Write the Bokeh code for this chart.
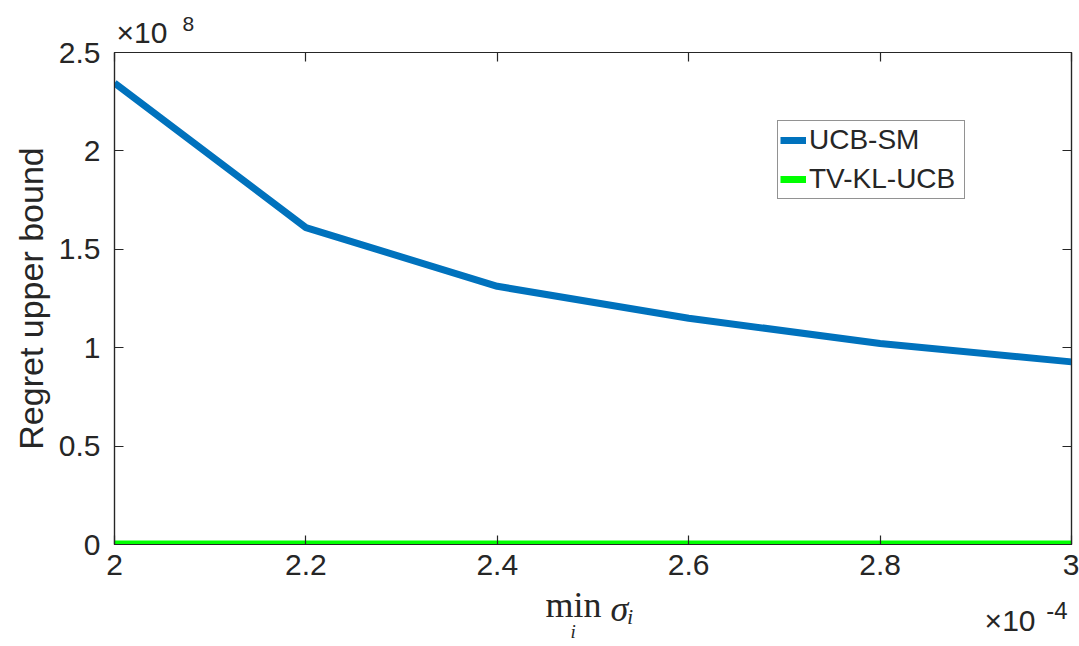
from bokeh.plotting import figure
from bokeh.models import (LinearAxis, FixedTicker, Legend, LegendItem,
                          Range1d, Title)
from bokeh.embed import file_html
from bokeh.resources import INLINE

# x values in units of 1e-4, y values in units of 1e8
sigma_min = [2.0, 2.2, 2.4, 2.6, 2.8, 3.0]
ucb_sm = [2.345, 1.61, 1.312, 1.15, 1.021, 0.928]
tv_kl_ucb = [0.002, 0.002, 0.002, 0.002, 0.002, 0.002]

x_ticks = [2.0, 2.2, 2.4, 2.6, 2.8, 3.0]
x_tick_labels = ["2", "2.2", "2.4", "2.6", "2.8", "3"]
y_ticks = [0.0, 0.5, 1.0, 1.5, 2.0, 2.5]
y_tick_labels = ["0", "0.5", "1", "1.5", "2", "2.5"]

INK = "#262626"
SANS = "Liberation Sans"
SERIF = "Liberation Serif"

p = figure(width=1079, height=646, output_backend="svg", toolbar_location=None,
           x_range=Range1d(2.0, 3.0), y_range=Range1d(0.0, 2.5),
           min_border_left=114, min_border_right=8, min_border_top=52,
           min_border_bottom=102)
p.background_fill_color = "white"
p.border_fill_color = "white"
p.grid.visible = False
p.outline_line_color = INK
p.outline_line_width = 1.2


def style_axis(ax, ticks, labels, show_labels=True):
    ax.ticker = FixedTicker(ticks=ticks)
    ax.axis_line_color = INK
    ax.axis_line_width = 1.2
    ax.major_tick_line_color = INK
    ax.major_tick_line_width = 1.2
    ax.major_tick_in = 9
    ax.major_tick_out = 0
    ax.minor_tick_line_color = None
    ax.major_label_text_font = SANS
    ax.major_label_text_color = INK
    if show_labels:
        ax.major_label_overrides = {t: s for t, s in zip(ticks, labels)}
        ax.major_label_text_font_size = "30px"
    else:
        ax.major_label_overrides = {t: "" for t in ticks}
        ax.major_label_text_font_size = "10px"
        ax.major_label_standoff = 0


def gap(depth):
    # invisible axis that only reserves `depth` pixels in a side panel
    ax = LinearAxis(ticker=FixedTicker(ticks=x_ticks))
    ax.major_label_overrides = {t: "" for t in x_ticks}
    ax.major_label_text_font_size = "10px"
    ax.major_label_standoff = 0
    ax.axis_line_color = None
    ax.major_tick_line_color = None
    ax.minor_tick_line_color = None
    ax.major_tick_in = 0
    ax.major_tick_out = depth
    return ax


def note(text, size, align="left", offset=0, font=SANS, style="normal"):
    # zero-height text centred on the current edge of its side panel
    px = int(size.rstrip("px"))
    return Title(text=text, align=align, offset=offset, standoff=-(2 + px),
                 vertical_align="middle", text_font=font, text_font_size=size,
                 text_font_style=style, text_color=INK)


style_axis(p.xaxis[0], x_ticks, x_tick_labels)
p.xaxis[0].major_label_standoff = 10

style_axis(p.yaxis[0], y_ticks, y_tick_labels)
p.yaxis[0].major_label_standoff = 14
p.yaxis[0].axis_label = "Regret upper bound"
p.yaxis[0].axis_label_text_font = SANS
p.yaxis[0].axis_label_text_font_size = "34px"
p.yaxis[0].axis_label_text_font_style = "normal"
p.yaxis[0].axis_label_text_color = INK
p.yaxis[0].axis_label_standoff = 6

top_ax = LinearAxis()
style_axis(top_ax, x_ticks, x_tick_labels, show_labels=False)
p.add_layout(top_ax, "above")
right_ax = LinearAxis()
style_axis(right_ax, y_ticks, y_tick_labels, show_labels=False)
p.add_layout(right_ax, "right")

# y exponent above the top-left corner
p.add_layout(gap(19), "above")
p.add_layout(note("\u00d710", "30px", "left", 2), "above")
p.add_layout(gap(7), "above")
p.add_layout(note("8", "21px", "left", 68), "above")

# x label and x exponent below the axis
p.add_layout(gap(25), "below")
p.add_layout(note("min", "36px", "left", 431, font=SERIF), "below")
p.add_layout(note("\u03c3\u1d62", "36px", "left", 496, font=SERIF,
                  style="italic"), "below")
p.add_layout(note("-4", "24px", "right", 4), "below")
p.add_layout(gap(8), "below")
p.add_layout(note("\u00d710", "30px", "right", 36), "below")
p.add_layout(gap(9), "below")
p.add_layout(note("i", "19px", "left", 456, font=SERIF, style="italic"),
             "below")

r_ucb = p.line(sigma_min, ucb_sm, line_color="#0072BD", line_width=7)
r_tv = p.line(sigma_min, tv_kl_ucb, line_color="#00FF00", line_width=7)

legend = Legend(items=[LegendItem(label="UCB-SM", renderers=[r_ucb]),
                       LegendItem(label="TV-KL-UCB", renderers=[r_tv])],
                location=(663, 345), orientation="vertical")
legend.label_text_font = SANS
legend.label_text_font_size = "28px"
legend.label_text_color = INK
legend.glyph_width = 26
legend.glyph_height = 34
legend.label_standoff = 3
legend.label_width = 153
legend.padding = 2
legend.spacing = 5
legend.margin = 0
legend.border_line_color = INK
legend.border_line_width = 1.2
legend.background_fill_color = "white"
legend.background_fill_alpha = 1.0
p.add_layout(legend, "center")

open("out.html", "w").write(file_html(p, INLINE))
